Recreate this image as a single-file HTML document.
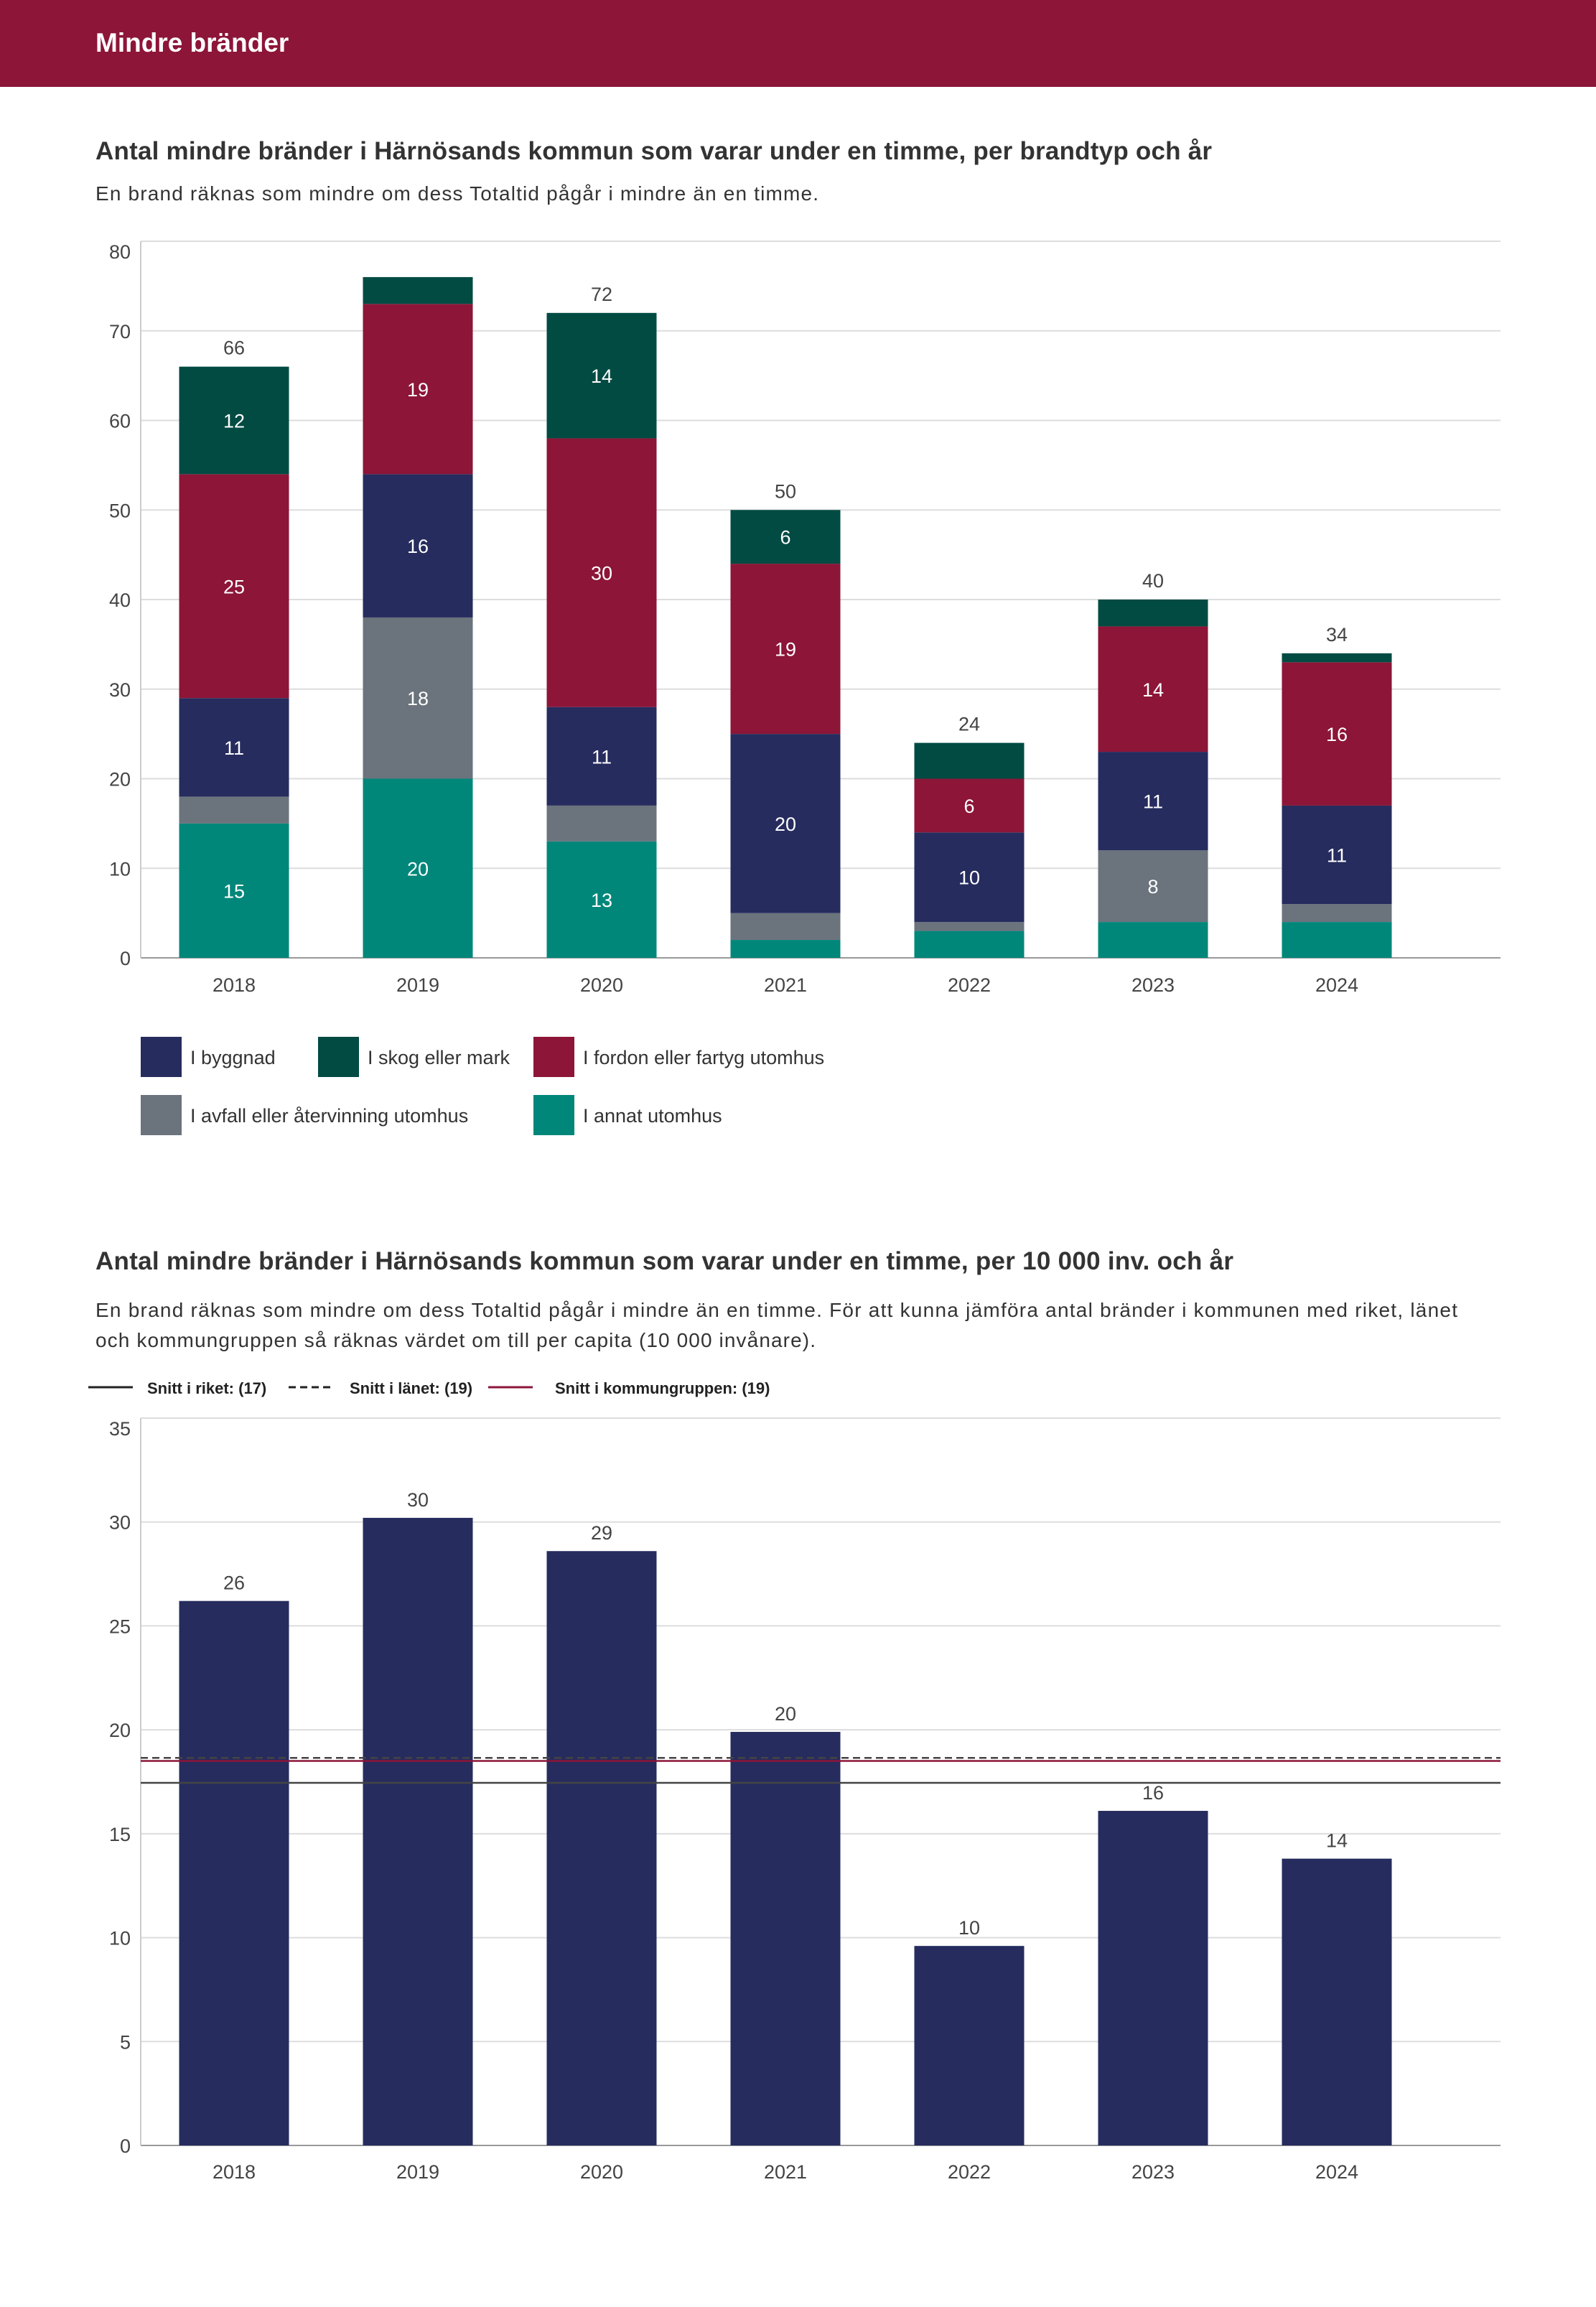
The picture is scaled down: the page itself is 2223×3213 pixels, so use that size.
<!DOCTYPE html>
<html><head><meta charset="utf-8">
<style>
body{margin:0;background:#fff;width:2223px;height:3213px;overflow:hidden;font-family:"Liberation Sans",sans-serif;}
svg{display:block}
</style></head>
<body>
<svg id="s" width="2223" height="3213" xmlns="http://www.w3.org/2000/svg" font-family="Liberation Sans, sans-serif">
<rect x="0" y="0" width="2223" height="121" fill="#8c1538"/>
<text x="133" y="72" font-size="37" font-weight="bold" fill="#fff">Mindre bränder</text>
<text x="133" y="222" font-size="35" font-weight="bold" fill="#333" textLength="1555">Antal mindre bränder i Härnösands kommun som varar under en timme, per brandtyp och år</text>
<text x="133" y="279" font-size="28" fill="#333" textLength="1007">En brand räknas som mindre om dess Totaltid pågår i mindre än en timme.</text>
<g id="c1"></g>
<g id="leg1"></g>
<text x="133" y="1768" font-size="35" font-weight="bold" fill="#333" textLength="1585">Antal mindre bränder i Härnösands kommun som varar under en timme, per 10 000 inv. och år</text>
<text x="133" y="1834" font-size="28" fill="#333" textLength="1897">En brand räknas som mindre om dess Totaltid pågår i mindre än en timme. För att kunna jämföra antal bränder i kommunen med riket, länet</text>
<text x="133" y="1876" font-size="28" fill="#333" textLength="1003">och kommungruppen så räknas värdet om till per capita (10 000 invånare).</text>
<g id="c2"></g>
</svg>
<script>
const NS="http://www.w3.org/2000/svg";
const years=["2018","2019","2020","2021","2022","2023","2024"];
const annat=[15,20,13,2,3,4,4];
const avfall=[3,18,4,3,1,8,2];
const byggnad=[11,16,11,20,10,11,11];
const fordon=[25,19,30,19,6,14,16];
const skog=[12,3,14,6,4,3,1];
const totalsShown=[true,false,true,true,true,true,true];
const ticks1=[0,10,20,30,40,50,60,70,80];
const perCapita=[26.2,30.2,28.6,19.9,9.6,16.1,13.8];
const perCapitaLabels=["26","30","29","20","10","16","14"];
const ticks2=[0,5,10,15,20,25,30,35];
const avgRiket=17.45, avgLanet=18.65, avgGrupp=18.5;

function el(tag,attrs,parent,txt){const e=document.createElementNS(NS,tag);for(const k in attrs)e.setAttribute(k,attrs[k]);if(txt!==undefined)e.textContent=txt;parent.appendChild(e);return e;}
const X0=196,X1=2090,step=256,bw=153,firstC=326;
function xc(i){return firstC+i*step;}

// chart 1
const c1=document.getElementById('c1');
const y1=v=>1334-v*(1334-336)/80;
ticks1.forEach((t,k)=>{
  const g=el('line',{x1:X0,x2:X1,y1:y1(t),y2:y1(t),stroke:t===0?'#999':'#ddd','stroke-width':2},c1);
  
  const off=(k===ticks1.length-1)?24:10;
  const l=el('text',{x:182,y:y1(t)+off,'font-size':27,fill:'#444','text-anchor':'end'},c1,String(t));
  
});
const ax=el('line',{x1:X0,x2:X0,y1:336,y2:1334,stroke:'#ccc','stroke-width':2},c1);

const series=[["annat",annat,"#00877a"],["avfall",avfall,"#6b737c"],["byggnad",byggnad,"#262c5e"],["fordon",fordon,"#8c1538"],["skog",skog,"#024b43"]];
years.forEach((yr,i)=>{
  let acc=0;
  series.forEach(([nm,arr,col])=>{
    const v=arr[i];const top=y1(acc+v),bot=y1(acc);
    const r=el('rect',{x:xc(i)-bw/2,y:top,width:bw,height:bot-top,fill:col},c1);
    
    if(v>=6){const t=el('text',{x:xc(i),y:(top+bot)/2+10,'font-size':27,fill:'#fff','text-anchor':'middle'},c1,String(v));
      }
    acc+=v;
  });
  if(totalsShown[i]){const t=el('text',{x:xc(i),y:y1(acc)-17,'font-size':27,fill:'#444','text-anchor':'middle'},c1,String(acc));
    }
  const xl=el('text',{x:xc(i),y:1381,'font-size':27,fill:'#444','text-anchor':'middle'},c1,yr);
  
});
// legend 1
const leg1=document.getElementById('leg1');
[[196,1444,"#262c5e","I byggnad"],[443,1444,"#024b43","I skog eller mark"],[743,1444,"#8c1538","I fordon eller fartyg utomhus"],[196,1525,"#6b737c","I avfall eller återvinning utomhus"],[743,1525,"#00877a","I annat utomhus"]].forEach(([x,y,c,t])=>{
  const r=el('rect',{x:x,y:y,width:57,height:56,fill:c},leg1);
  
  const tx=el('text',{x:x+69,y:y+38,'font-size':27,fill:'#333'},leg1,t);
  
});

// chart 2
const c2=document.getElementById('c2');
const y2=v=>2988-v*(2988-1975)/35;
[[123,"#222",null,"Snitt i riket: (17)",205],[402,"#222","10,6","Snitt i länet: (19)",487],[680,"#8c1538",null,"Snitt i kommungruppen: (19)",773]].forEach(([x,c,d,t,tx])=>{
  const a={x1:x,x2:x+62,y1:1932,y2:1932,stroke:c,'stroke-width':3};if(d)a['stroke-dasharray']=d;
  const l=el('line',a,c2);
  const tt=el('text',{x:tx,y:1941,'font-size':22,'font-weight':'bold',fill:'#222'},c2,t);
  
});
ticks2.forEach((t,k)=>{
  const g=el('line',{x1:X0,x2:X1,y1:y2(t),y2:y2(t),stroke:t===0?'#999':'#ddd','stroke-width':2},c2);
  
  const off=(k===ticks2.length-1)?24:10;
  const l=el('text',{x:182,y:y2(t)+off,'font-size':27,fill:'#444','text-anchor':'end'},c2,String(t));
  
});
const ax2=el('line',{x1:X0,x2:X0,y1:1975,y2:2988,stroke:'#ccc','stroke-width':2},c2);

years.forEach((yr,i)=>{
  const v=perCapita[i];
  const r=el('rect',{x:xc(i)-bw/2,y:y2(v),width:bw,height:y2(0)-y2(v),fill:'#262c5e'},c2);
  
  const t=el('text',{x:xc(i),y:y2(v)-16,'font-size':27,fill:'#444','text-anchor':'middle'},c2,perCapitaLabels[i]);
  
  const xl=el('text',{x:xc(i),y:3034,'font-size':27,fill:'#444','text-anchor':'middle'},c2,yr);
  
});
[[avgRiket,"#444",null,"avg-line-riket"],[avgLanet,"#444","10,6","avg-line-lanet"],[avgGrupp,"#8c1538",null,"avg-line-kommungrupp"]].forEach(([v,c,d,n])=>{
  const a={x1:X0,x2:X1,y1:y2(v),y2:y2(v),stroke:c,'stroke-width':2.5};if(d)a['stroke-dasharray']=d;
  const l=el('line',a,c2);
});
</script>
</body></html>
